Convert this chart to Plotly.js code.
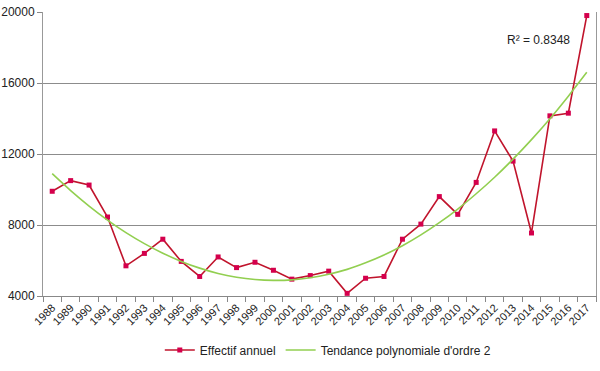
<!DOCTYPE html>
<html>
<head>
<meta charset="utf-8">
<script src="https://cdn.plot.ly/plotly-3.0.1.min.js"></script>
<style>html,body{margin:0;padding:0;background:#fff;overflow:hidden;}#chart{width:600px;height:371px;}</style>
</head>
<body>
<div id="chart"></div>
<script>
const years = ["1988","1989","1990","1991","1992","1993","1994","1995","1996","1997","1998","1999","2000","2001","2002","2003","2004","2005","2006","2007","2008","2009","2010","2011","2012","2013","2014","2015","2016","2017"];
const effectif = [9900,10500,10250,8450,5700,6400,7200,5950,5100,6200,5600,5900,5450,4950,5150,5400,4150,5000,5100,7200,8050,9600,8600,10400,13300,11600,7550,14150,14300,19800];
const tendance = [10890,9940,9070,8280,7570,6950,6410,5950,5570,5270,5060,4930,4880,4910,5030,5230,5500,5870,6310,6830,7440,8130,8900,9760,10690,11710,12810,13990,15260,16600];
const yTicks = [4000,8000,12000,16000,20000];
const yTickText = ["4000","8000","12000","16000","20000"];
const rSquared = "R² = 0.8348";

const font = "Liberation Sans, Arial, sans-serif";
const traces = [
  {x: years, y: effectif, type: 'scatter', mode: 'lines+markers', name: 'Effectif annuel',
   line: {color: '#c0142c', width: 1.6}, marker: {symbol: 'square', size: 5, color: '#d4004c'}},
  {x: years, y: tendance, type: 'scatter', mode: 'lines', name: "Tendance polynomiale d'ordre 2",
   line: {color: '#92cf50', width: 1.6, shape: 'spline'}}
];
const layout = {
  width: 600, height: 371,
  margin: {l: 43, r: 4, t: 12, b: 75},
  paper_bgcolor: '#fff', plot_bgcolor: '#fff',
  font: {family: font, size: 12, color: '#222'},
  showlegend: true,
  legend: {orientation: 'h', x: 0.515, xanchor: 'center', y: -0.19, yanchor: 'middle', itemwidth: 30,
           font: {family: font, size: 12, color: '#222'}, traceorder: 'normal'},
  xaxis: {type: 'category', range: [-0.5, years.length - 0.5], tickson: 'boundaries', ticks: 'outside', ticklen: 5, tickcolor: '#888',
          showline: true, linecolor: '#888', linewidth: 1, showgrid: false, tickangle: -45,
          automargin: false,
          tickfont: {family: font, size: 11, color: '#222'}, fixedrange: true, zeroline: false},
  yaxis: {range: [4000, 20000], tickvals: yTicks, ticktext: yTickText, ticks: 'outside', ticklen: 5, tickcolor: '#888',
          showline: true, linecolor: '#999', linewidth: 1, mirror: true, automargin: false,
          showgrid: true, gridcolor: '#8c8c8c', gridwidth: 1, zeroline: false,
          tickfont: {family: font, size: 12, color: '#222'}},
  annotations: [{xref: 'paper', yref: 'paper', x: 0.835, y: 0.90, xanchor: 'left', yanchor: 'middle',
                 text: rSquared, showarrow: false, font: {family: font, size: 12, color: '#222'}}]
};
Plotly.newPlot('chart', traces, layout, {displayModeBar: false, staticPlot: true});
</script>
</body>
</html>
